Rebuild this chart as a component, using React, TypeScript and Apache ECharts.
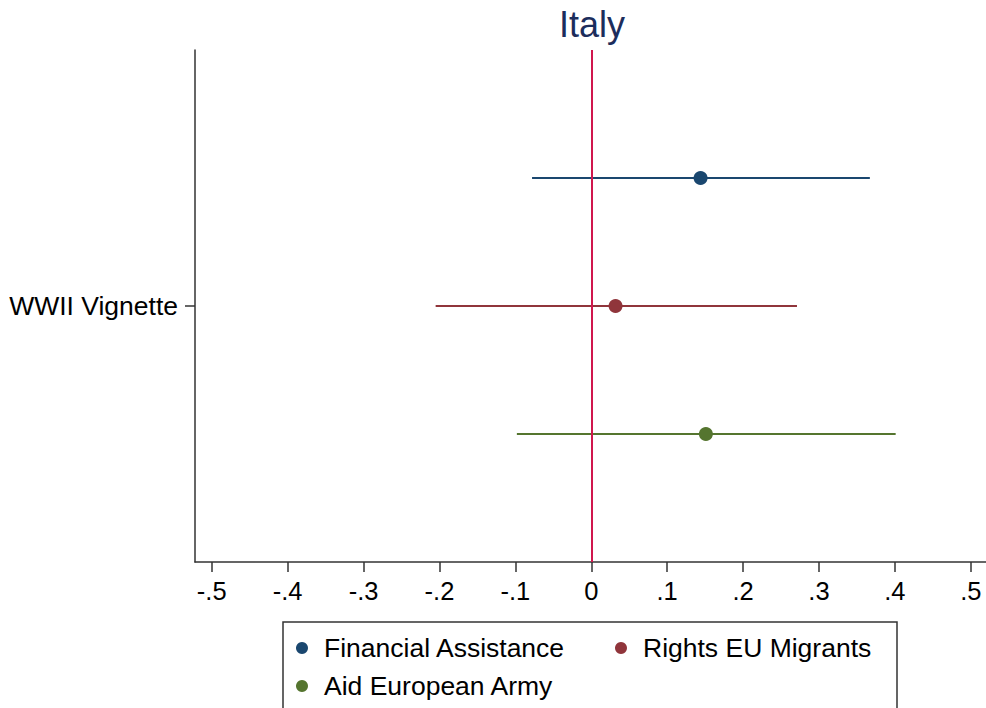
import React, { useEffect, useRef } from "react";
import * as echarts from "echarts";

// Coefficient estimates with 95% confidence intervals, one row per outcome
const outcomes = ["Financial Assistance", "Rights EU Migrants", "Aid European Army"];
const estimates = [0.144, 0.032, 0.151];
const lowerCI = [-0.078, -0.205, -0.098];
const upperCI = [0.367, 0.271, 0.401];
const rowPositions = [3, 2, 1];
const outcomeColors = ["#1a476f", "#90353b", "#55752f"];

const xTickValues = [-0.5, -0.4, -0.3, -0.2, -0.1, 0, 0.1, 0.2, 0.3, 0.4, 0.5];
const xTickLabels = ["-.5", "-.4", "-.3", "-.2", "-.1", "0", ".1", ".2", ".3", ".4", ".5"];
const yTickValues = [2];
const yTickLabels = ["WWII Vignette"];

const FONT = "'Liberation Sans', Arial, Helvetica, sans-serif";

function labelFor(values: number[], labels: string[], v: number): string {
  let best = 0;
  for (let i = 1; i < values.length; i++) {
    if (Math.abs(values[i] - v) < Math.abs(values[best] - v)) best = i;
  }
  return labels[best];
}

export default function App() {
  const ref = useRef<HTMLDivElement>(null);

  useEffect(() => {
    if (!ref.current) return;
    const chart = echarts.init(ref.current, null, { renderer: "svg" });

    const ciSeries = outcomes.map((name, i) => ({
      name,
      type: "line",
      data: [
        [lowerCI[i], rowPositions[i]],
        [upperCI[i], rowPositions[i]],
      ],
      symbol: "none",
      lineStyle: { color: outcomeColors[i], width: 2 },
      itemStyle: { color: outcomeColors[i] },
      silent: true,
      z: 3,
    }));

    const pointSeries = outcomes.map((name, i) => ({
      name,
      type: "scatter",
      data: [[estimates[i], rowPositions[i]]],
      symbol: "circle",
      symbolSize: 14,
      itemStyle: { color: outcomeColors[i], opacity: 1 },
      z: 4,
    }));

    const refLine = {
      name: "zero",
      type: "line",
      data: [],
      markLine: {
        silent: true,
        symbol: "none",
        label: { show: false },
        lineStyle: { color: "#d0174d", width: 2, type: "solid" },
        data: [{ xAxis: 0 }],
      },
      z: 2,
    };

    const legendBase = {
      orient: "horizontal",
      icon: "circle",
      itemWidth: 12,
      itemHeight: 12,
      selectedMode: false,
      padding: 0,
      textStyle: { fontSize: 26.5, color: "#000", fontFamily: FONT, lineHeight: 30, padding: [0, 0, 0, 11] },
    };

    chart.setOption({
      animation: false,
      backgroundColor: "#fff",
      textStyle: { fontFamily: FONT },
      grid: { left: 195, right: 0, top: 50, bottom: 146, containLabel: false },
      xAxis: {
        type: "value",
        min: -0.522,
        max: 0.52,
        axisLine: { show: true, onZero: false, lineStyle: { color: "#333", width: 1.5 } },
        axisTick: { show: true, customValues: xTickValues, length: 10, lineStyle: { color: "#333", width: 1.5 } },
        axisLabel: {
          customValues: xTickValues,
          formatter: (v: number) => labelFor(xTickValues, xTickLabels, v),
          fontSize: 25.5,
          color: "#000",
          margin: 16,
          fontFamily: FONT,
        },
        splitLine: { show: false },
      },
      yAxis: {
        type: "value",
        min: 0,
        max: 4,
        axisLine: { show: true, onZero: false, lineStyle: { color: "#333", width: 1.5 } },
        axisTick: { show: true, customValues: yTickValues, length: 10, lineStyle: { color: "#333", width: 1.5 } },
        axisLabel: {
          customValues: yTickValues,
          formatter: (v: number) => labelFor(yTickValues, yTickLabels, v),
          fontSize: 26.5,
          color: "#000",
          margin: 17,
          fontFamily: FONT,
        },
        splitLine: { show: false },
      },
      legend: [
        { ...legendBase, data: [outcomes[0]], left: 296, top: 633 },
        { ...legendBase, data: [outcomes[1]], left: 615, top: 633 },
        { ...legendBase, data: [outcomes[2]], left: 296, top: 671 },
      ],
      graphic: [
        {
          type: "text",
          x: 592,
          y: 24,
          style: {
            text: "Italy",
            textAlign: "center",
            textVerticalAlign: "middle",
            fontSize: 36,
            fontFamily: FONT,
            fill: "#1c2d5c",
          },
        },
        {
          type: "rect",
          shape: { x: 283, y: 622, width: 614, height: 120 },
          style: { fill: "none", stroke: "#333", lineWidth: 1.5 },
          silent: true,
        },
      ],
      series: [refLine, ...ciSeries, ...pointSeries],
    });

    return () => chart.dispose();
  }, []);

  return (
    <div
      ref={ref}
      style={{ position: "absolute", left: 0, top: 0, width: 986, height: 708, background: "#fff" }}
    />
  );
}
